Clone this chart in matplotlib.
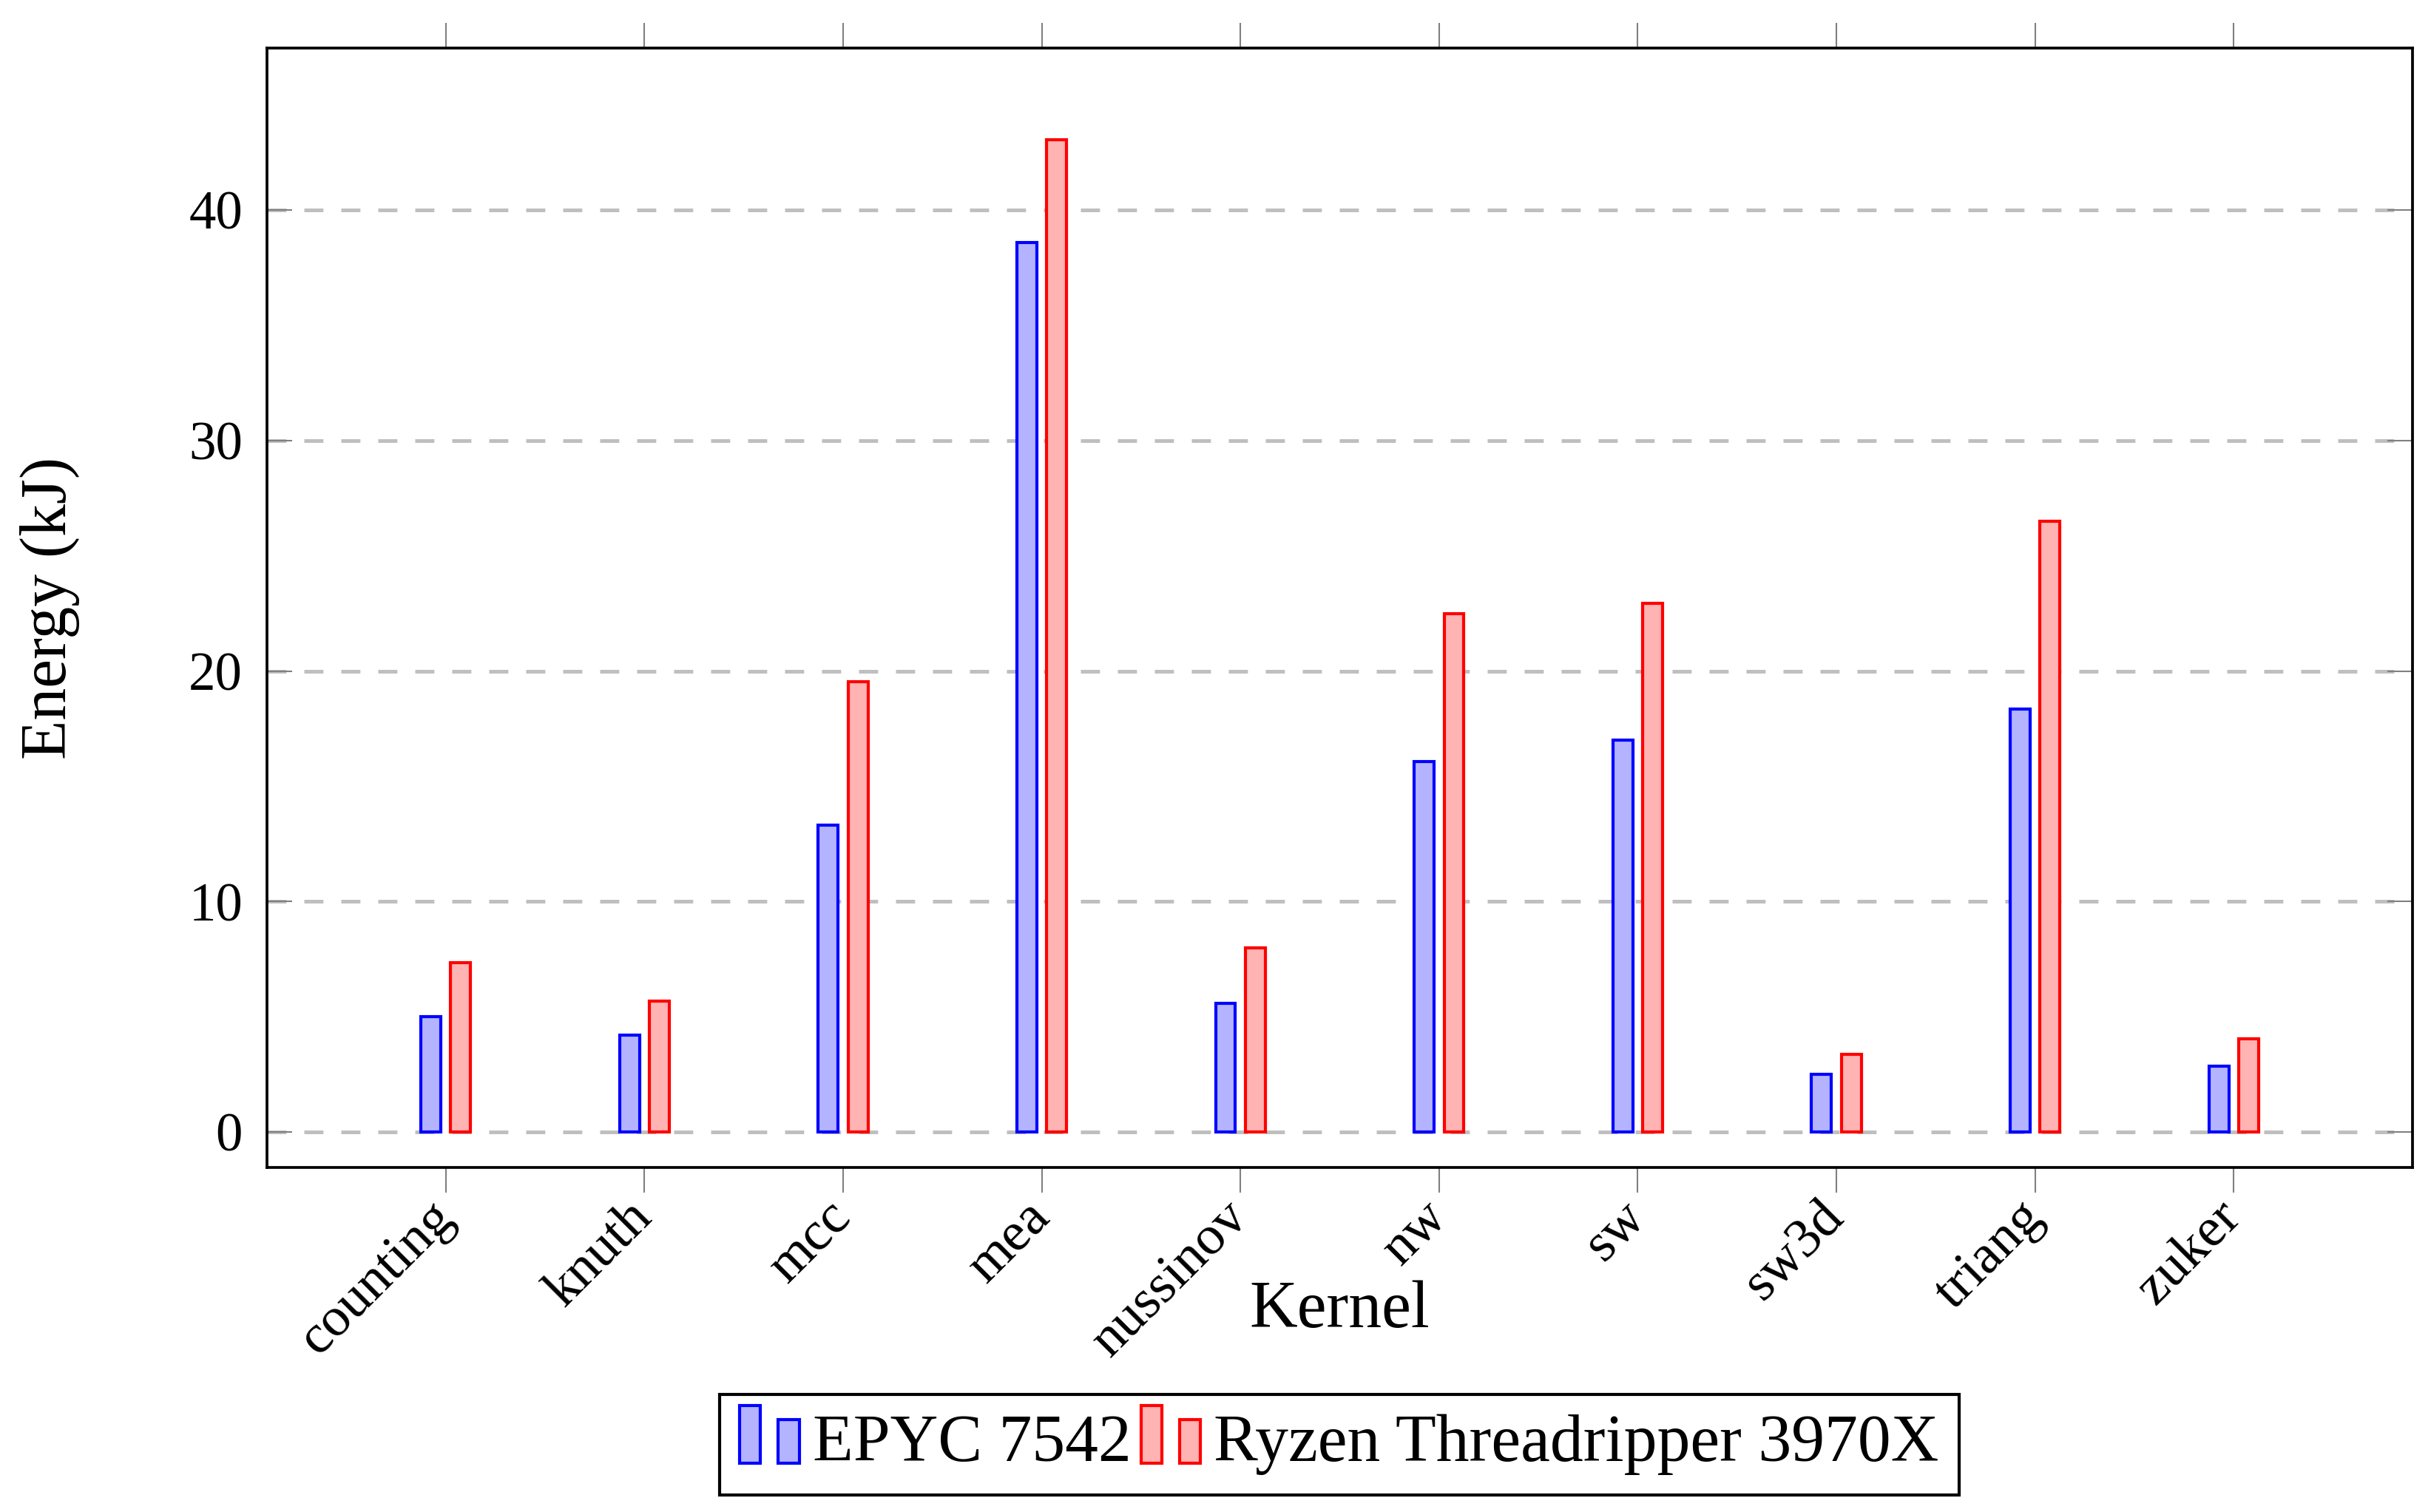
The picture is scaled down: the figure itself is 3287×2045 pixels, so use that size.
import numpy as np
import matplotlib
matplotlib.use("Agg")
import matplotlib.pyplot as plt
from matplotlib.patches import Rectangle
from matplotlib.legend_handler import HandlerBase

kernels = ["counting", "knuth", "mcc", "mea", "nussinov", "nw", "sw", "sw3d", "triang", "zuker"]
epyc = [5.0, 4.2, 13.3, 38.6, 5.58, 16.07, 17.0, 2.5, 18.35, 2.87]
ryzen = [7.35, 5.68, 19.55, 43.05, 8.0, 22.5, 22.95, 3.36, 26.5, 4.03]
series_names = ["EPYC 7542", "Ryzen Threadripper 3970X"]
yticks = [0, 10, 20, 30, 40]

plt.rcParams['font.family'] = ['Liberation Serif', 'DejaVu Serif']
plt.rcParams['lines.scale_dashes'] = False


class TwoBarHandler(HandlerBase):
    # pgfplots style ybar legend image: two small bars
    def create_artists(self, legend, orig_handle, xdescent, ydescent,
                       width, height, fontsize, trans):
        fc = orig_handle.get_facecolor()
        ec = orig_handle.get_edgecolor()
        w = width * 0.35
        r1 = Rectangle((-xdescent, -ydescent - 0.05 * height), w, height * 1.25,
                       facecolor=fc, edgecolor=ec, lw=1.0, transform=trans)
        r2 = Rectangle((-xdescent + width - w, -ydescent - 0.05 * height), w, height * 0.95,
                       facecolor=fc, edgecolor=ec, lw=1.0, transform=trans)
        return [r1, r2]


fig = plt.figure(figsize=(3287 / 300, 2045 / 300), dpi=300)
ax = fig.add_axes([361 / 3287, 1 - 1579 / 2045, (3262 - 361) / 3287, (1579 - 65) / 2045])

x = np.arange(len(kernels))
bw = 0.1
off = 0.075
b1 = ax.bar(x - off, epyc, bw, facecolor="#b3b3ff", edgecolor="#0000ff", lw=1.0,
            label=series_names[0], zorder=3)
b2 = ax.bar(x + off, ryzen, bw, facecolor="#ffb3b3", edgecolor="#ff0000", lw=1.0,
            label=series_names[1], zorder=3)

ax.set_xlim(-0.9, 9.9)
ax.set_ylim(-1.54, 47.03)
ax.set_xticks(x)
ax.set_xticklabels(kernels, rotation=45, ha="right", va="center", rotation_mode="anchor")
ax.set_yticks(yticks)

ax.yaxis.grid(True, color="#bfbfbf", lw=1.2, linestyle=(0, (6.2, 5.8)))
ax.set_axisbelow(True)

ax.tick_params(axis="x", direction="out", length=8.2, width=0.5, color="#808080",
               top=True, bottom=True, labelsize=18, pad=5.5)
ax.tick_params(axis="y", direction="in", length=8.2, width=0.5, color="#808080",
               left=True, right=True, labelsize=17.5, pad=7.9)
for s in ax.spines.values():
    s.set_linewidth(0.9)
    s.set_zorder(5)

ax.set_xlabel("Kernel", fontsize=21.5, va="baseline")
ax.xaxis.set_label_coords(0.5, -0.1427)
ax.set_ylabel("Energy (kJ)", fontsize=21, va="center")
ax.yaxis.set_label_coords(-0.101, 0.5)

leg = fig.legend(handles=[b1.patches[0], b2.patches[0]], labels=series_names,
                 loc="center", bbox_to_anchor=(0.5509, 0.0445), ncol=2,
                 fontsize=21.5, frameon=True, fancybox=False, framealpha=1,
                 edgecolor="black", handlelength=0.9, handleheight=0.7,
                 handletextpad=0.2, columnspacing=0.15, borderpad=0.3,
                 handler_map={Rectangle: TwoBarHandler()})
leg.get_frame().set_linewidth(1.0)

fig.savefig("out.png", dpi=300)
